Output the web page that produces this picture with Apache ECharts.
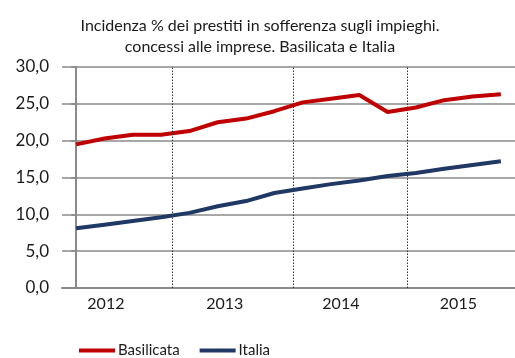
<!DOCTYPE html>
<html>
<head>
<meta charset="utf-8">
<script src="https://cdn.jsdelivr.net/npm/echarts@6/dist/echarts.min.js"></script>
<style>
  html, body { margin: 0; padding: 0; background: #fff; }
  #chart { width: 515px; height: 358px; }
</style>
</head>
<body>
<div id="chart"></div>
<script>
// Quarterly observations, 2012 Q1 .. 2015 Q4
const quarters = [
  '2012 T1', '2012 T2', '2012 T3', '2012 T4',
  '2013 T1', '2013 T2', '2013 T3', '2013 T4',
  '2014 T1', '2014 T2', '2014 T3', '2014 T4',
  '2015 T1', '2015 T2', '2015 T3', '2015 T4'
];
const basilicata = [19.5, 20.3, 20.8, 20.8, 21.3, 22.5, 23.0, 24.0, 25.2, 25.7, 26.2, 23.9, 24.5, 25.5, 26.0, 26.3];
const italia = [8.1, 8.6, 9.1, 9.6, 10.2, 11.1, 11.8, 12.9, 13.5, 14.1, 14.6, 15.2, 15.6, 16.2, 16.7, 17.2];
const years = ['2012', '2013', '2014', '2015'];
const yTicks = [0, 5, 10, 15, 20, 25, 30];

const FONT = 'Lato';
const GRID_GRAY = '#8a8a8a';

// year captions and separators sit on the quarter-index scale
const yearLabelAt = [1.05, 5.25, 9.35, 13.5];
const separatorsAt = [3.4, 7.68, 11.68];

const chart = echarts.init(document.getElementById('chart'), null, { renderer: 'canvas' });

const pairs = arr => arr.map((v, i) => [i, v]);

chart.setOption({
  animation: false,
  title: {
    text: 'Incidenza % dei prestiti in sofferenza sugli impieghi.\nconcessi alle imprese. Basilicata e Italia',
    left: 255,
    top: 10,
    textAlign: 'center',
    textStyle: { fontFamily: FONT, fontSize: 16, fontWeight: 'normal', color: '#1a1a1a', lineHeight: 21 }
  },
  legend: {
    left: 74,
    top: 338,
    itemWidth: 36,
    itemHeight: 4,
    itemGap: 20,
    icon: 'rect',
    textStyle: { fontFamily: FONT, fontSize: 15, color: '#1a1a1a', padding: [0, 0, 0, -2] },
    data: ['Basilicata', 'Italia']
  },
  grid: { left: 62, top: 67, width: 457, height: 221, containLabel: false },
  xAxis: {
    type: 'value',
    min: -0.5,
    max: 15.5,
    axisLine: { show: true, lineStyle: { color: GRID_GRAY, width: 2 } },
    axisTick: { show: false },
    splitLine: { show: false },
    axisLabel: {
      show: true,
      customValues: yearLabelAt,
      formatter: v => years[yearLabelAt.indexOf(v)] || '',
      margin: 8,
      fontFamily: FONT,
      fontSize: 16,
      color: '#1a1a1a'
    }
  },
  yAxis: {
    type: 'value',
    min: 0,
    max: 30,
    interval: 5,
    axisLine: { show: true, lineStyle: { color: GRID_GRAY, width: 2 } },
    axisTick: { show: true, length: 5, lineStyle: { color: GRID_GRAY, width: 1.5 } },
    splitLine: { show: true, lineStyle: { color: GRID_GRAY, width: 1.5 } },
    axisLabel: {
      margin: 13,
      fontFamily: FONT,
      fontSize: 17,
      color: '#1a1a1a',
      formatter: v => yTicks.includes(v) ? v.toFixed(1).replace('.', ',') : ''
    }
  },
  series: [
    {
      name: 'Basilicata',
      type: 'line',
      data: pairs(basilicata),
      showSymbol: false,
      symbol: 'none',
      color: '#C00000',
      lineStyle: { color: '#C00000', width: 4 },
      z: 3,
      markLine: {
        silent: true,
        symbol: 'none',
        label: { show: false },
        lineStyle: { color: '#333', width: 1, type: [1.5, 1.5] },
        data: separatorsAt.map(x => ({ xAxis: x }))
      }
    },
    {
      name: 'Italia',
      type: 'line',
      data: pairs(italia),
      showSymbol: false,
      symbol: 'none',
      color: '#1F3864',
      lineStyle: { color: '#1F3864', width: 4 },
      z: 3
    }
  ]
});
</script>
</body>
</html>
